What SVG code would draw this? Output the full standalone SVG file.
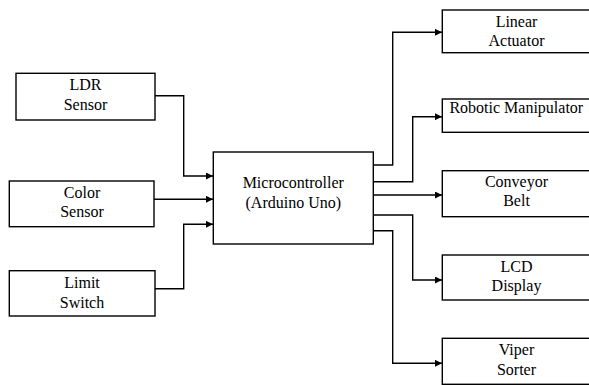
<svg xmlns="http://www.w3.org/2000/svg" width="589" height="385" viewBox="0 0 589 385">
<style>
.box{fill:#fff;stroke:#000;stroke-width:1.4}
.c{fill:none;stroke:#000;stroke-width:1.4}
</style>
<defs>
<marker id="ah" viewBox="0 0 10 10" refX="10" refY="5" markerWidth="8" markerHeight="7" markerUnits="userSpaceOnUse" orient="auto">
<path d="M0,0 L10,5 L0,10 z" fill="#000"/>
</marker>
</defs>
<rect width="589" height="385" fill="#fff"/>
<g id="connectors">
<path class="c" marker-end="url(#ah)" d="M155,95.7 H183.7 V176 H213"/>
<path class="c" marker-end="url(#ah)" d="M154,199.3 H213"/>
<path class="c" marker-end="url(#ah)" d="M155,288.7 H183.7 V224.3 H213"/>
<path class="c" marker-end="url(#ah)" d="M373.3,165 H392.7 V32.3 H442"/>
<path class="c" marker-end="url(#ah)" d="M373.3,181.7 H412.7 V116.7 H442"/>
<path class="c" marker-end="url(#ah)" d="M373.3,195 H442"/>
<path class="c" marker-end="url(#ah)" d="M373.3,215 H412.7 V280 H442"/>
<path class="c" marker-end="url(#ah)" d="M373.3,230.7 H392.7 V363.3 H442"/>
</g>
<g font-family="'Liberation Serif', 'Times New Roman', serif" font-size="16" text-anchor="middle" fill="#000">
<g id="ldr"><rect class="box" x="16" y="73.3" width="139" height="46.7"/><text x="85.5" y="90">LDR</text><text x="85.5" y="110">Sensor</text></g>
<g id="color"><rect class="box" x="9.3" y="181" width="144.7" height="45.7"/><text x="82" y="197.5">Color</text><text x="82" y="217">Sensor</text></g>
<g id="limit"><rect class="box" x="9.3" y="270.7" width="145.7" height="45.3"/><text x="82" y="288">Limit</text><text x="82" y="308">Switch</text></g>
<g id="micro"><rect class="box" x="213.3" y="152" width="160" height="92"/><text x="293.3" y="188">Microcontroller</text><text x="293.3" y="208">(Arduino Uno)</text></g>
<g id="linear"><rect class="box" x="442.3" y="10" width="148" height="42.7"/><text x="516.5" y="26.5">Linear</text><text x="516.5" y="46">Actuator</text></g>
<g id="robotic"><rect class="box" x="442.3" y="99" width="148" height="33.3"/><text x="516.3" y="112.5">Robotic Manipulator</text></g>
<g id="conveyor"><rect class="box" x="442.3" y="170.7" width="148" height="46"/><text x="516.5" y="187">Conveyor</text><text x="516.5" y="206">Belt</text></g>
<g id="lcd"><rect class="box" x="442.3" y="255" width="148" height="45"/><text x="516.5" y="271.5">LCD</text><text x="516.5" y="291">Display</text></g>
<g id="viper"><rect class="box" x="442.3" y="338.3" width="148" height="46"/><text x="516.5" y="355">Viper</text><text x="516.5" y="374.5">Sorter</text></g>
</g>
</svg>
